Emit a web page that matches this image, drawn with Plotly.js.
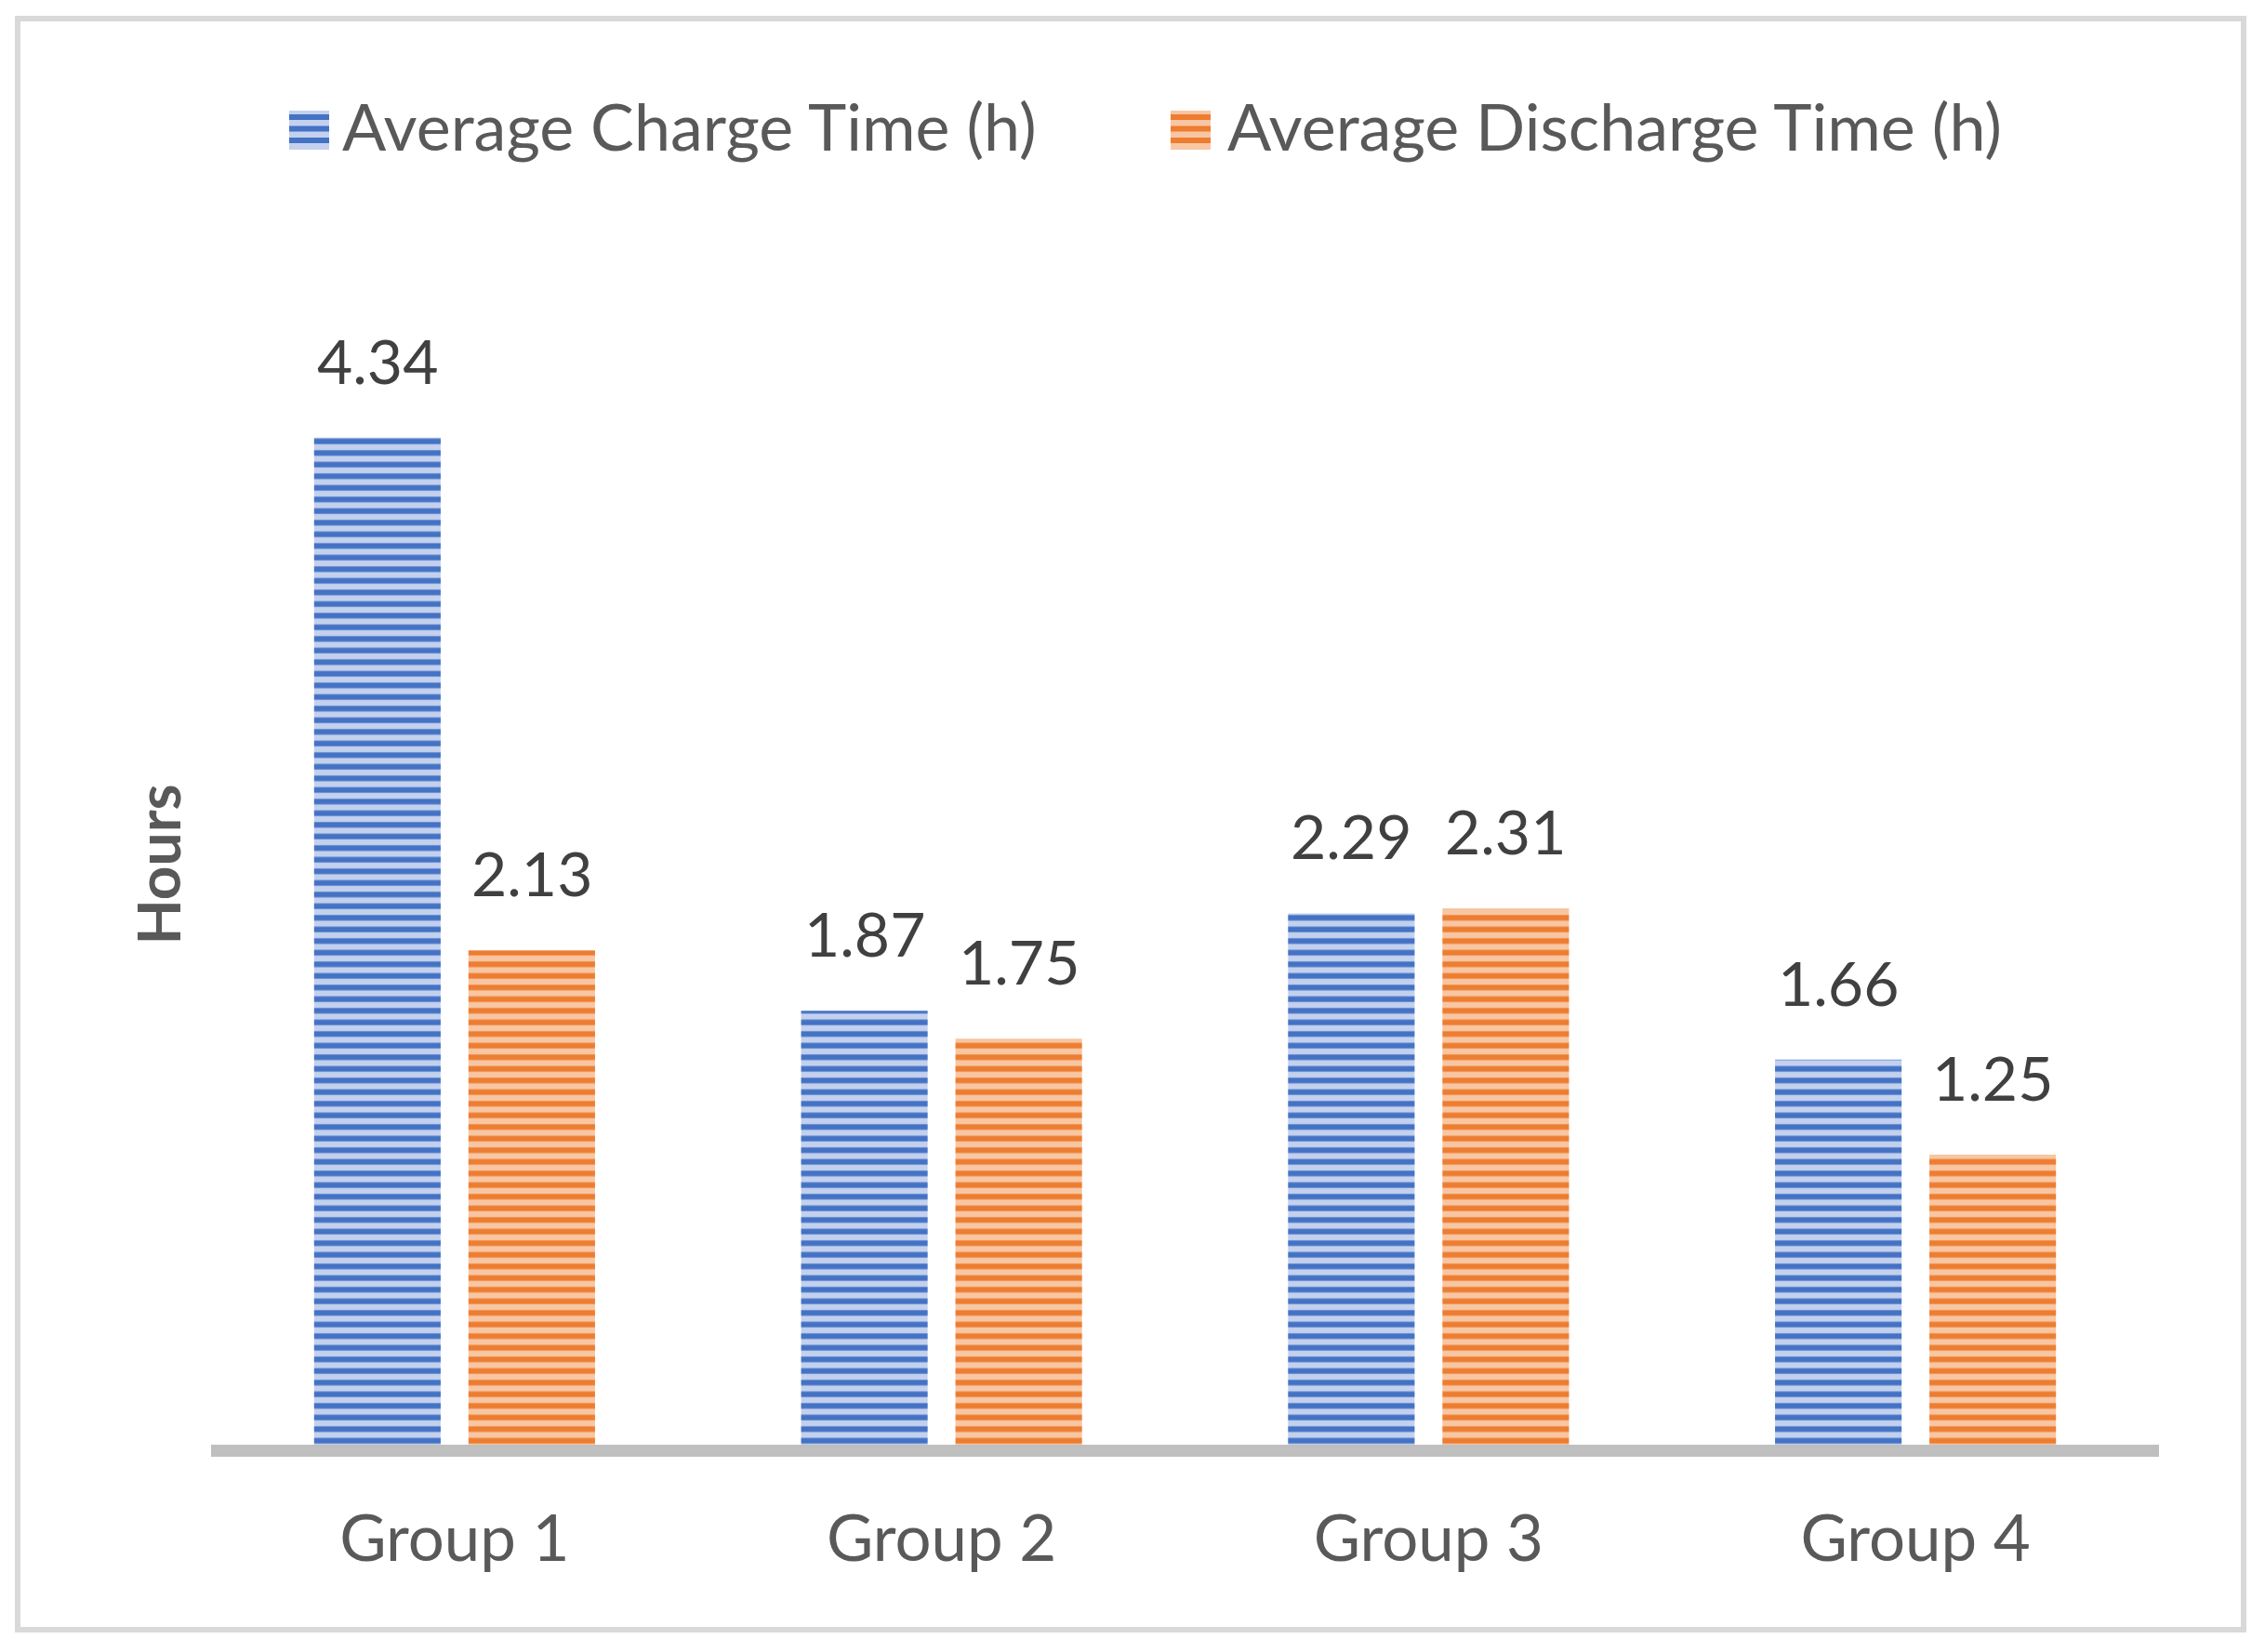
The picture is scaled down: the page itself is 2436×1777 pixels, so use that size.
<!DOCTYPE html>
<html>
<head>
<meta charset="utf-8">
<script src="https://cdn.plot.ly/plotly-3.0.1.min.js"></script>
<style>html,body{margin:0;padding:0;background:#fff;}#chart{width:2436px;height:1777px;}</style>
</head>
<body>
<div id="chart"></div>
<script>
// ---- data ----
const categories = ['Group 1', 'Group 2', 'Group 3', 'Group 4'];
const chargeTime = [4.34, 1.87, 2.29, 1.66];
const dischargeTime = [2.13, 1.75, 2.31, 1.25];
const seriesNames = ['Average Charge Time (h)', 'Average Discharge Time (h)'];

// ---- styles ----
const W = 2436, H = 1777, L = 227, R = 114, T = 306, B = 223;
const plotW = W - L - R, plotH = H - T - B;
const px2x = p => (p - L) / plotW;
const py2y = p => (H - B - p) / plotH;
const FONT = 'Lato, "Open Sans", sans-serif';
const dark = ['#4472c4', '#ed7d31'];
const light = ['#c3d1ee', '#f8c6a2'];
const slotOffset = 83; // px from category centre to bar centre

function barTrace(name, values, i) {
  return {
    type: 'bar', name: name, x: categories, y: values,
    marker: {
      color: dark[i],
      line: {width: 0},
      pattern: {shape: '-', fgcolor: dark[i], bgcolor: light[i], size: 12.5, solidity: 0.48, fillmode: 'replace'}
    },
    hoverinfo: 'x+y', showlegend: false
  };
}

const traces = [barTrace(seriesNames[0], chargeTime, 0), barTrace(seriesNames[1], dischargeTime, 1)];

// data labels
const annotations = [];
[chargeTime, dischargeTime].forEach((vals, s) => {
  vals.forEach((v, k) => {
    annotations.push({
      x: categories[k], y: v, xref: 'x', yref: 'y',
      xshift: (s === 0 ? -1 : 1) * slotOffset, yshift: 42,
      yanchor: 'bottom', xanchor: 'center', showarrow: false,
      text: v.toFixed(2),
      font: {family: FONT, size: 66, color: '#404040'}
    });
  });
});

// custom legend
const shapes = [];
const legendX = [311, 1259];
const legendTextX = [366, 1318];
const swTop = 119, swH = 42, swW = 43;
seriesNames.forEach((n, i) => {
  shapes.push({type: 'rect', xref: 'paper', yref: 'paper',
    x0: px2x(legendX[i]), x1: px2x(legendX[i] + swW), y0: py2y(swTop), y1: py2y(swTop + swH),
    fillcolor: light[i], line: {width: 0}});
  for (let k = 0; k < 3; k++) {
    const t = swTop + 4 + 12.5 * k;
    shapes.push({type: 'rect', xref: 'paper', yref: 'paper',
      x0: px2x(legendX[i]), x1: px2x(legendX[i] + swW), y0: py2y(t), y1: py2y(t + 6),
      fillcolor: dark[i], line: {width: 0}});
  }
  annotations.push({
    xref: 'paper', yref: 'paper', x: px2x(legendTextX[i]), y: py2y(135),
    xanchor: 'left', yanchor: 'middle', showarrow: false, text: n,
    font: {family: FONT, size: 70, color: '#595959'}
  });
});

// outer border
shapes.push({type: 'rect', xref: 'paper', yref: 'paper',
  x0: px2x(19), x1: px2x(2413), y0: py2y(20), y1: py2y(1753),
  fillcolor: 'rgba(0,0,0,0)', line: {color: '#d9d9d9', width: 6}, layer: 'below'});

const layout = {
  width: W, height: H,
  margin: {l: L, r: R, t: T, b: B, pad: 0},
  paper_bgcolor: '#ffffff', plot_bgcolor: '#ffffff',
  showlegend: false,
  barmode: 'group', bargap: 0.366, bargroupgap: 0.18,
  font: {family: FONT, color: '#595959'},
  xaxis: {
    type: 'category', showline: true, linewidth: 13, linecolor: '#bfbfbf',
    ticks: '', showgrid: false, zeroline: false, ticklabelstandoff: 29,
    tickfont: {family: FONT, size: 69, color: '#595959'}, fixedrange: true
  },
  yaxis: {
    range: [0, 5], showticklabels: false, showgrid: false, zeroline: false, showline: false, ticks: '',
    title: {text: 'Hours', standoff: 10, font: {family: FONT, size: 64, color: '#595959', weight: 'bold'}},
    fixedrange: true
  },
  annotations: annotations,
  shapes: shapes
};

Plotly.newPlot('chart', traces, layout, {displayModeBar: false, staticPlot: true});
</script>
</body>
</html>
